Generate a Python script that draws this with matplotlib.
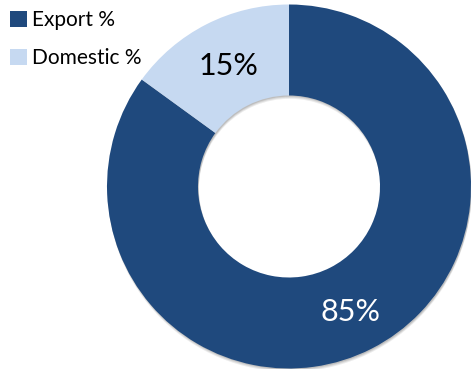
import matplotlib.pyplot as plt
from matplotlib.patches import Wedge

# Share of sales
labels = ['Export %', 'Domestic %']
values = [85, 15]
colors = ['#1F497D', '#C6D9F1']

plt.rcParams['font.family'] = ['Lato', 'DejaVu Sans']

fig = plt.figure(figsize=(4.72, 3.75), dpi=100)
ax = fig.add_axes([107 / 472, 6.5 / 375, 364 / 472, 364 / 375])

# soft drop shadow behind the whole ring
for dy, a in [(-0.018, 0.12), (-0.012, 0.15), (-0.006, 0.2)]:
    ax.add_patch(Wedge((0.004, dy), 1, 0, 360, width=0.5, facecolor='#606060',
                       edgecolor='none', alpha=a, zorder=0))

wedges, _ = ax.pie(values, colors=colors, startangle=90, counterclock=False,
                   radius=1, wedgeprops=dict(width=0.5, linewidth=0, zorder=1))

# Percent labels inside the ring
ax.text(-0.33, 0.66, f'{values[1]}%', ha='center', va='center', fontsize=22, color='black')
ax.text(0.34, -0.69, f'{values[0]}%', ha='center', va='center', fontsize=22, color='white')

ax.set_xlim(-1, 1)
ax.set_ylim(-1, 1)
ax.set_aspect('auto')
ax.axis('off')

leg = fig.legend(wedges, labels, loc='upper left', bbox_to_anchor=(0.0, 1.0),
                 frameon=False, fontsize=15, handlelength=0.78, handleheight=0.78,
                 handletextpad=0.25, labelspacing=0.85, borderaxespad=0.2,
                 borderpad=0.3)

fig.savefig('out.png', dpi=100)
